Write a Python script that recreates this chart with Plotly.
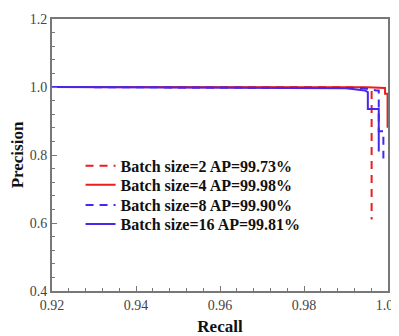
import plotly.graph_objects as go

names = ["Batch size=2 AP=99.73%", "Batch size=4 AP=99.98%",
         "Batch size=8 AP=99.90%", "Batch size=16 AP=99.81%"]
colors = ["rgb(235,30,30)", "rgb(235,30,30)", "rgb(70,40,235)", "rgb(70,40,235)"]
dashes = ["8px,6px", "solid", "8px,6px", "solid"]

recall_2 = [0.92, 0.95, 0.99, 0.9955, 0.9961, 0.9961]
prec_2 = [1.0, 1.0, 0.999, 0.997, 0.995, 0.61]

recall_4 = [0.92, 0.97, 0.995, 0.9993, 0.9993, 0.9999, 0.9999]
prec_4 = [1.0, 1.0, 0.999, 0.997, 0.98, 0.98, 0.88]

recall_8 = [0.92, 0.96, 0.994, 0.9972, 0.9978, 0.9978, 0.9989, 0.9989]
prec_8 = [1.0, 0.998, 0.997, 0.99, 0.99, 0.87, 0.87, 0.79]

recall_16 = [0.92, 0.96, 0.99, 0.9945, 0.9952, 0.9952, 0.9978, 0.9978]
prec_16 = [1.0, 0.998, 0.996, 0.99, 0.985, 0.935, 0.935, 0.81]

recalls = [recall_2, recall_4, recall_8, recall_16]
precs = [prec_2, prec_4, prec_8, prec_16]

font = "Liberation Serif, Times New Roman, serif"
legend_ids = ["legend", "legend2", "legend3", "legend4"]
legend_y = [0.460, 0.390, 0.316, 0.246]

fig = go.Figure()
for n, c, d, r, p, lg in zip(names, colors, dashes, recalls, precs, legend_ids):
    fig.add_trace(go.Scatter(x=r, y=p, mode="lines", name="<b>" + n + "</b>",
                             line=dict(color=c, width=2, dash=d), legend=lg))

axis_common = dict(showline=True, linecolor="#777", linewidth=2, mirror=True,
                   ticks="inside", tickcolor="#777", ticklen=5, tickwidth=1,
                   showgrid=False, zeroline=False, automargin=False,
                   ticklabeloverflow="allow",
                   tickfont=dict(family=font, size=14, color="#444"))
fig.update_xaxes(range=[0.92, 1.0], dtick=0.02, tickformat=".2f",
                 minor=dict(ticks="inside", dtick=0.004, ticklen=3, tickcolor="#777"),
                 title=dict(text="<b>Recall</b>", font=dict(family=font, size=17, color="#111"), standoff=27),
                 **axis_common)
fig.update_yaxes(range=[0.4, 1.2], dtick=0.2, tickformat=".1f",
                 minor=dict(ticks="inside", dtick=0.04, ticklen=3, tickcolor="#777"),
                 title=dict(text="<b>Precision</b>", font=dict(family=font, size=17, color="#111"), standoff=3),
                 **axis_common)

legend_layout = {}
for lg, ly in zip(legend_ids, legend_y):
    legend_layout[lg] = dict(x=0.085, y=ly, xanchor="left", yanchor="middle",
                             bgcolor="rgba(0,0,0,0)",
                             font=dict(family=font, size=16, color="#111"),
                             itemwidth=30)

# the page body has an 8px default margin, so the figure is sized to fit the window
fig.update_layout(width=391, height=328, margin=dict(l=44, r=11, t=11, b=45),
                  plot_bgcolor="white", paper_bgcolor="white",
                  font=dict(family=font), showlegend=True,
                  **legend_layout)
fig.write_html("out.html")
